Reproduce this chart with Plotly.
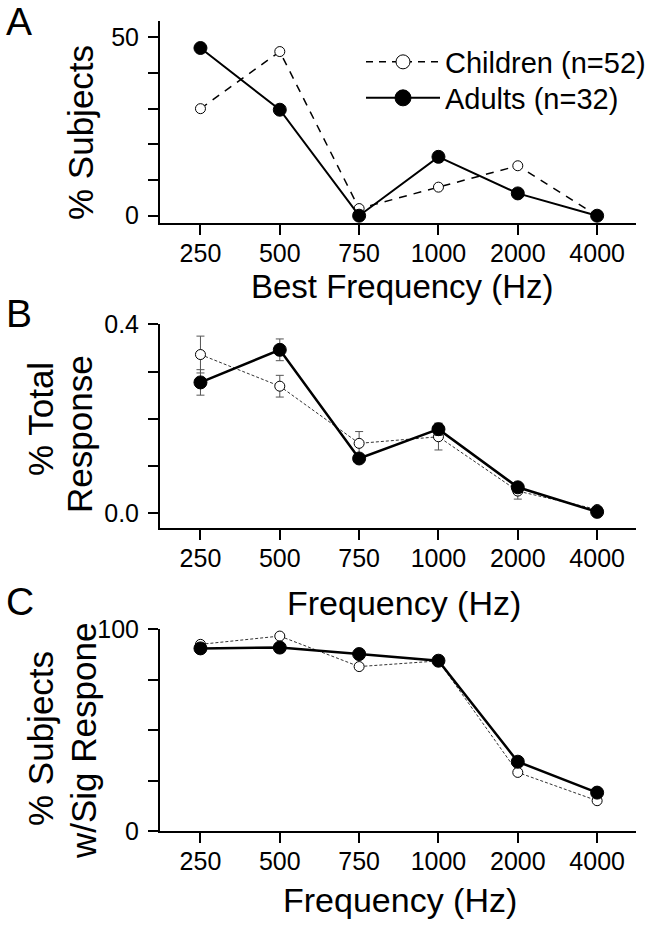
import plotly.graph_objects as go

freqs = ["250", "500", "750", "1000", "2000", "4000"]

# Panel A: % Subjects by best frequency
a_children = [30, 46, 2, 8, 14, 0]
a_adults = [47, 29.7, 0, 16.5, 6.25, 0]

# Panel B: % Total response (mean +/- error)
b_children = [0.336, 0.269, 0.148, 0.162, 0.047, 0.008]
b_children_err = [0.039, 0.023, 0.025, 0.028, 0.017, 0.005]
b_adults = [0.277, 0.346, 0.116, 0.178, 0.055, 0.003]
b_adults_err = [0.027, 0.023, 0.006, 0.013, 0.008, 0.003]

# Panel C: % Subjects with significant response
c_children = [92.4, 96.5, 81.4, 84.2, 29.0, 15.0]
c_adults = [90.4, 90.8, 87.6, 84.3, 34.3, 19.0]

a_yticks = [0, 10, 20, 30, 40, 50]
a_yticktext = ["0", "", "", "", "", "50"]
b_yticks = [0.0, 0.1, 0.2, 0.3, 0.4]
b_yticktext = ["0.0", "", "", "", "0.4"]
c_yticks = [0, 25, 50, 75, 100]
c_yticktext = ["0", "", "", "", "100"]

W, H = 651, 928
FONT = "Liberation Sans, Arial, sans-serif"


def px_x(p):
    return p / W


def px_y(p):
    return 1 - p / H


fig = go.Figure()

open_marker = dict(symbol="circle", color="white", line=dict(color="black", width=1))
fill_marker = dict(symbol="circle", color="black", line=dict(color="black", width=1))

# Panel A
fig.add_trace(go.Scatter(x=freqs, y=a_children, mode="lines+markers", xaxis="x", yaxis="y",
                         line=dict(color="black", width=1.5, dash="8px,7px"),
                         marker=dict(size=10, **open_marker), showlegend=False, cliponaxis=False))
fig.add_trace(go.Scatter(x=freqs, y=a_adults, mode="lines+markers", xaxis="x", yaxis="y",
                         line=dict(color="black", width=2),
                         marker=dict(size=13, **fill_marker), showlegend=False, cliponaxis=False))

# Panel B
fig.add_trace(go.Scatter(x=freqs, y=b_children, mode="lines+markers", xaxis="x2", yaxis="y2",
                         line=dict(color="#333333", width=1, dash="3px,2px"),
                         error_y=dict(type="data", array=b_children_err, color="#555555", thickness=1, width=4),
                         marker=dict(size=10, **open_marker), showlegend=False, cliponaxis=False))
fig.add_trace(go.Scatter(x=freqs, y=b_adults, mode="lines+markers", xaxis="x2", yaxis="y2",
                         line=dict(color="black", width=2.5),
                         error_y=dict(type="data", array=b_adults_err, color="#555555", thickness=1, width=4),
                         marker=dict(size=13, **fill_marker), showlegend=False, cliponaxis=False))

# Panel C
fig.add_trace(go.Scatter(x=freqs, y=c_children, mode="lines+markers", xaxis="x3", yaxis="y3",
                         line=dict(color="#333333", width=1, dash="3px,2px"),
                         marker=dict(size=10, **open_marker), showlegend=False, cliponaxis=False))
fig.add_trace(go.Scatter(x=freqs, y=c_adults, mode="lines+markers", xaxis="x3", yaxis="y3",
                         line=dict(color="black", width=2.5),
                         marker=dict(size=13, **fill_marker), showlegend=False, cliponaxis=False))

# Legend entries (one legend box per row)
fig.add_trace(go.Scatter(x=[None], y=[None], mode="lines+markers", name="Children (n=52)",
                         line=dict(color="black", width=1.5, dash="7px,6px"),
                         marker=dict(size=14, **open_marker), xaxis="x", yaxis="y", legend="legend"))
fig.add_trace(go.Scatter(x=[None], y=[None], mode="lines+markers", name="Adults (n=32)",
                         line=dict(color="black", width=2),
                         marker=dict(size=17, **fill_marker), xaxis="x", yaxis="y", legend="legend2"))

xdom = [px_x(160), px_x(636)]
xrange_ = [-0.51, 5.49]

common_x = dict(type="category", categoryorder="array", categoryarray=freqs, range=xrange_,
                showline=True, linewidth=2, linecolor="black", ticks="outside", ticklen=10,
                tickwidth=2, tickcolor="black", showgrid=False, zeroline=False, automargin=False,
                tickfont=dict(size=25, color="black", family=FONT), ticklabelstandoff=-3,
                domain=xdom)
common_y = dict(showline=True, linewidth=2, linecolor="black", ticks="outside", ticklen=10,
                tickwidth=2, tickcolor="black", showgrid=False, zeroline=False, automargin=False,
                tickfont=dict(size=25, color="black", family=FONT), ticklabelstandoff=4)

legend_common = dict(xanchor="left", yanchor="middle", bgcolor="rgba(0,0,0,0)",
                     font=dict(size=29, family=FONT, color="black"), itemwidth=74)

fig.update_layout(
    template="none",
    width=W, height=H,
    margin=dict(l=0, r=0, t=0, b=0, pad=0, autoexpand=False),
    paper_bgcolor="white", plot_bgcolor="white",
    font=dict(family=FONT, color="black"),
    xaxis=dict(common_x, anchor="y"),
    yaxis=dict(common_y, domain=[px_y(223.3), px_y(20.7)], range=[-2.13, 54.65],
               tickvals=a_yticks, ticktext=a_yticktext, anchor="x"),
    xaxis2=dict(common_x, anchor="y2"),
    yaxis2=dict(common_y, domain=[px_y(527.7), px_y(324.3)], range=[-0.0305, 0.4],
                tickvals=b_yticks, ticktext=b_yticktext, anchor="x2"),
    xaxis3=dict(common_x, anchor="y3"),
    yaxis3=dict(common_y, domain=[px_y(831), px_y(629)], range=[0, 100],
                tickvals=c_yticks, ticktext=c_yticktext, anchor="x3"),
    legend=dict(legend_common, x=px_x(361), y=px_y(62)),
    legend2=dict(legend_common, x=px_x(361), y=px_y(98)),
)

ann = []


def add_text(text, x, y, size, angle=0, xanchor="center"):
    ann.append(dict(text=text, x=px_x(x), y=px_y(y), xref="paper", yref="paper",
                    showarrow=False, textangle=angle, xanchor=xanchor, yanchor="middle",
                    font=dict(size=size, family=FONT, color="black")))


add_text("A", 4, 21, 39, xanchor="left")
add_text("B", 4, 313, 39, xanchor="left")
add_text("C", 4, 601, 39, xanchor="left")

add_text("Best Frequency (Hz)", 402, 287, 33)
add_text("Frequency (Hz)", 404, 603, 34)
add_text("Frequency (Hz)", 400, 900, 34)

add_text("% Subjects", 81, 133, 35, angle=-90)
add_text("% Total", 40, 419, 35, angle=-90)
add_text("Response", 79, 434, 35, angle=-90)
add_text("% Subjects", 40, 739, 35, angle=-90)
add_text("w/Sig Respone", 83, 741, 35, angle=-90)

fig.update_layout(annotations=ann)

fig.write_html("out.html", config={"displayModeBar": False},
               post_script="document.body.style.margin='0px';document.body.style.overflow='hidden';")
